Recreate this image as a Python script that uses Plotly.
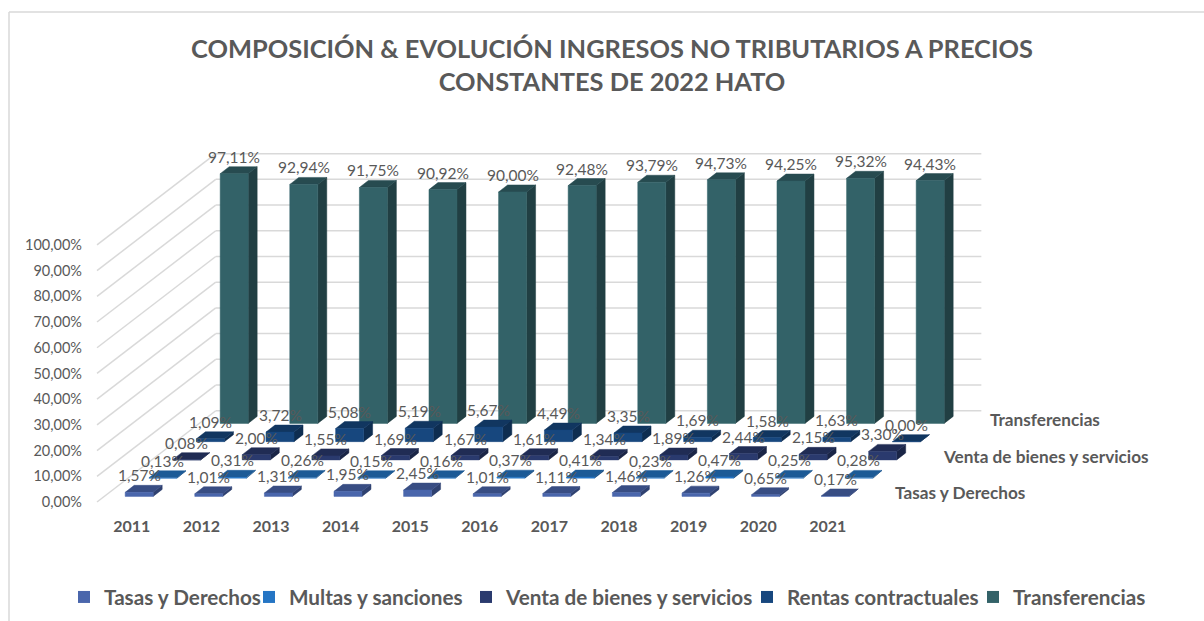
import plotly.graph_objects as go

years = ["2011", "2012", "2013", "2014", "2015", "2016", "2017", "2018", "2019", "2020", "2021"]
series_names = ["Tasas y Derechos", "Multas y sanciones", "Venta de bienes y servicios",
                "Rentas contractuales", "Transferencias"]
tasas = [1.57, 1.01, 1.31, 1.95, 2.45, 1.01, 1.11, 1.46, 1.26, 0.65, 0.17]
multas = [0.13, 0.31, 0.26, 0.15, 0.16, 0.37, 0.41, 0.23, 0.47, 0.25, 0.28]
venta = [0.08, 2.00, 1.55, 1.69, 1.67, 1.61, 1.34, 1.89, 2.44, 2.15, 3.30]
rentas = [1.09, 3.72, 5.08, 5.19, 5.67, 4.49, 3.35, 1.69, 1.58, 1.63, 0.00]
transferencias = [97.11, 92.94, 91.75, 90.92, 90.00, 92.48, 93.79, 94.73, 94.25, 95.32, 94.43]
series_values = [tasas, multas, venta, rentas, transferencias]
depth_labels = {0: "Tasas y Derechos", 2: "Venta de bienes y servicios", 4: "Transferencias"}
y_ticks = [0, 10, 20, 30, 40, 50, 60, 70, 80, 90, 100]
legend_text_starts = [104, 289, 506, 787, 1013]

front_colors = ["#4a66ac", "#2575c4", "#2a3a6e", "#17477e", "#336268"]
top_colors = ["#384d83", "#1c5a96", "#202c54", "#113660", "#274b50"]
side_colors = ["#2f4170", "#184b7f", "#1a2546", "#0e2d50", "#213f43"]

W, H = 1204, 621
PX_PER_CAT = 69.6
PX_PER_PCT = 2.571
ORIGIN_X, ORIGIN_Y = 97, 502

# oblique projection of the 3D chart box, expressed in axis units
SLOT_DX = 23.75 / PX_PER_CAT
SLOT_DY = 18.25 / PX_PER_PCT
BAR_W = 28 / PX_PER_CAT
BAR_DX = 9 / PX_PER_CAT
BAR_DY = 7 / PX_PER_PCT
N_SLOTS = len(series_names)
N_CATS = len(years)
GRID = "#d9d9d9"
TEXT = "#595959"
FONT = "Lato"


def box(i, s, value):
    start_dx = SLOT_DX * s + (SLOT_DX - BAR_DX) / 2
    start_dy = SLOT_DY * s + (SLOT_DY - BAR_DY) / 2
    x0 = i + 0.5 - BAR_W / 2 + start_dx
    x1 = x0 + BAR_W
    return x0, x1, start_dy, start_dy + value


fig = go.Figure()

# walls
wx, wy = [], []
sx, sy = [], []
for t in y_ticks:
    wx += [SLOT_DX * N_SLOTS, SLOT_DX * N_SLOTS + N_CATS, None]
    wy += [t + SLOT_DY * N_SLOTS, t + SLOT_DY * N_SLOTS, None]
    sx += [0, SLOT_DX * N_SLOTS, None]
    sy += [t, t + SLOT_DY * N_SLOTS, None]
fig.add_trace(go.Scatter(x=wx + sx, y=wy + sy, mode="lines", line=dict(color=GRID, width=1.5),
                         hoverinfo="skip", showlegend=False))

for s in reversed(range(N_SLOTS)):
    vals = series_values[s]
    for face, colors in (("side", side_colors), ("top", top_colors), ("front", front_colors)):
        xs, ys = [], []
        for i, v in enumerate(vals):
            x0, x1, y0, y1 = box(i, s, v)
            if face == "side":
                xs += [x1, x1 + BAR_DX, x1 + BAR_DX, x1, x1, None]
                ys += [y0, y0 + BAR_DY, y1 + BAR_DY, y1, y0, None]
            elif face == "top":
                xs += [x0, x1, x1 + BAR_DX, x0 + BAR_DX, x0, None]
                ys += [y1, y1, y1 + BAR_DY, y1 + BAR_DY, y1, None]
            else:
                xs += [x0, x1, x1, x0, x0, None]
                ys += [y0, y0, y1, y1, y0, None]
        fig.add_trace(go.Scatter(x=xs, y=ys, mode="lines", fill="toself", fillcolor=colors[s],
                                 line=dict(color=colors[s], width=0.5), hoverinfo="skip",
                                 showlegend=False))

# legend entries: one small legend per series so each entry sits at its own position
legend_layout = {}
for s, name in enumerate(series_names):
    key = "legend" if s == 0 else f"legend{s + 1}"
    fig.add_trace(go.Scatter(x=[None], y=[None], mode="markers", name=name, legend=key,
                             marker=dict(symbol="square", size=12, color=front_colors[s])))
    legend_layout[key] = dict(x=(legend_text_starts[s] - 40) / W, xanchor="left",
                              y=1 - 597 / H, yanchor="middle", itemwidth=30,
                              font=dict(family=FONT, size=20.7, color=TEXT, weight="bold"),
                              bgcolor="rgba(0,0,0,0)")

annotations = []
for s in range(N_SLOTS):
    for i, v in enumerate(series_values[s]):
        x0, x1, y0, y1 = box(i, s, v)
        annotations.append(dict(x=(x0 + x1) / 2, y=y1, text=f"{v:.2f}%".replace(".", ","),
                                showarrow=False, yshift=17, yanchor="middle", xanchor="center",
                                font=dict(family=FONT, size=15.5, color=TEXT)))
for s, name in depth_labels.items():
    annotations.append(dict(x=N_CATS + SLOT_DX * (s + 0.5), y=SLOT_DY * (s + 0.5), text=f"<b>{name}</b>",
                            showarrow=False, xanchor="left", yanchor="middle", xshift=19,
                            font=dict(family=FONT, size=17.2, color=TEXT)))

fig.update_layout(
    width=W, height=H, margin=dict(l=0, r=0, t=0, b=0), autosize=False,
    paper_bgcolor="white", plot_bgcolor="white",
    title=dict(text="<b>COMPOSICIÓN & EVOLUCIÓN INGRESOS NO TRIBUTARIOS A PRECIOS<br>CONSTANTES DE 2022 HATO</b>",
               x=612 / W, xanchor="center", y=1 - 58 / H, yanchor="middle",
               font=dict(family=FONT, size=25.4, color=TEXT)),
    xaxis=dict(range=[-ORIGIN_X / PX_PER_CAT, (W - ORIGIN_X) / PX_PER_CAT], domain=[0, 1],
               tickmode="array", tickvals=[i + 0.5 for i in range(N_CATS)], ticktext=years,
               showgrid=False, zeroline=False, showline=False, ticks="",
               anchor="free", position=(H - ORIGIN_Y) / H, ticklabelstandoff=13,
               tickfont=dict(family=FONT, size=16, color=TEXT, weight="bold")),
    yaxis=dict(range=[-(H - ORIGIN_Y) / PX_PER_PCT, ORIGIN_Y / PX_PER_PCT], domain=[0, 1],
               tickmode="array", tickvals=y_ticks, ticktext=[f"{t},00%" for t in y_ticks],
               showgrid=False, zeroline=False, showline=False, ticks="",
               anchor="free", position=ORIGIN_X / W, ticklabelstandoff=15,
               tickfont=dict(family=FONT, size=14.5, color=TEXT)),
    annotations=annotations,
    shapes=[dict(type="line", xref="paper", yref="paper", x0=9 / W, x1=1, y0=1 - 12 / H, y1=1 - 12 / H,
                 line=dict(color=GRID, width=1.5)),
            dict(type="line", xref="paper", yref="paper", x0=9 / W, x1=9 / W, y0=0, y1=1 - 12 / H,
                 line=dict(color=GRID, width=1.5))],
    **legend_layout,
)
fig.write_html("out.html", config={"displayModeBar": False},
               post_script="document.body.style.margin='0';document.body.style.overflow='hidden';")
